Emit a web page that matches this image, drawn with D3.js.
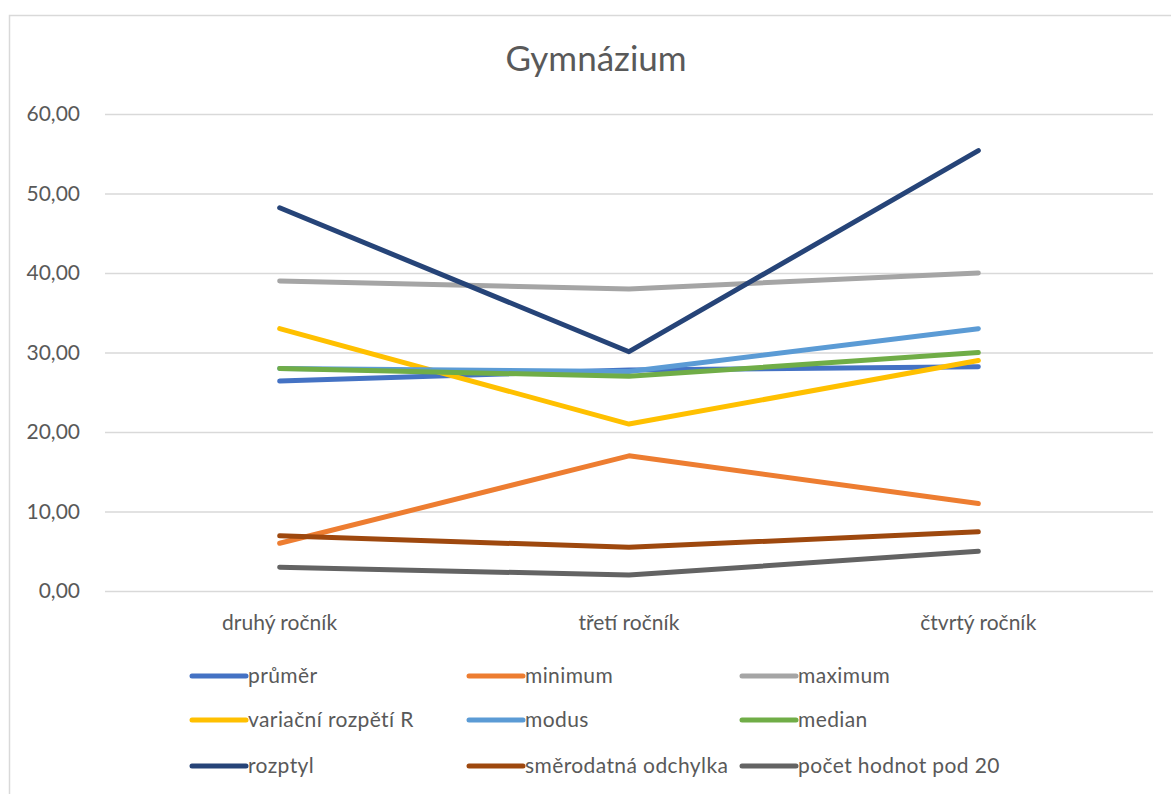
<!DOCTYPE html>
<html>
<head>
<meta charset="utf-8">
<script src="https://cdn.jsdelivr.net/npm/d3@7"></script>
<style>
  html, body { margin: 0; padding: 0; background: #fff; }
  svg { display: block; font-family: Lato, "Open Sans", sans-serif; }
</style>
</head>
<body>
<svg id="chart" width="1171" height="794"></svg>
<script>
// Statistiky výsledků po ročnících
const categories = ["druhý ročník", "třetí ročník", "čtvrtý ročník"];
const seriesNames = ["průměr", "minimum", "maximum", "variační rozpětí R", "modus", "median", "rozptyl", "směrodatná odchylka", "počet hodnot pod 20"];
const prumer = [26.4, 27.8, 28.2];
const minimum = [6, 17, 11];
const maximum = [39, 38, 40];
const rozpeti = [33, 21, 29];
const modus = [28, 27.6, 33];
const median = [28, 27, 30];
const rozptyl = [48.2, 30.1, 55.4];
const smOdchylka = [6.94, 5.49, 7.44];
const pocetPod20 = [3, 2, 5];
const yTicks = [0, 10, 20, 30, 40, 50, 60];
const colors = ["#4472C4", "#ED7D31", "#A5A5A5", "#FFC000", "#5B9BD5", "#70AD47", "#264478", "#9E480E", "#636363"];

const values = [prumer, minimum, maximum, rozpeti, modus, median, rozptyl, smOdchylka, pocetPod20];
const series = seriesNames.map((name, i) => ({ name, color: colors[i], values: values[i] }));

const svg = d3.select("#chart");
const textColor = "#595959";

// Chart frame
svg.append("rect")
  .attr("x", 9.5).attr("y", 15.5)
  .attr("width", 1200).attr("height", 820)
  .attr("fill", "none").attr("stroke", "#d9d9d9").attr("stroke-width", 1.5);

const plot = { left: 105, right: 1153, top: 114, bottom: 591 };

const x = d3.scaleBand().domain(categories).range([plot.left, plot.right]);
const y = d3.scaleLinear().domain([0, 60]).range([plot.bottom, plot.top]);

// Title
svg.append("text")
  .attr("x", 596).attr("y", 71)
  .attr("text-anchor", "middle")
  .attr("font-size", 35)
  .attr("fill", textColor)
  .text("Gymnázium");

// Gridlines
svg.append("g")
  .attr("transform", `translate(${plot.left},0)`)
  .call(d3.axisLeft(y).tickValues(yTicks).tickSize(-(plot.right - plot.left)).tickFormat(""))
  .call(g => g.select(".domain").remove())
  .call(g => g.selectAll(".tick line").attr("stroke", "#d9d9d9").attr("stroke-width", 1.5));

// Y tick labels
svg.append("g")
  .attr("transform", `translate(${plot.left},0)`)
  .call(d3.axisLeft(y).tickValues(yTicks).tickSize(0).tickPadding(25)
    .tickFormat(d => d3.format(".2f")(d).replace(".", ",")))
  .call(g => g.select(".domain").remove())
  .call(g => g.selectAll("text").attr("font-size", 21).attr("fill", textColor).attr("font-family", "Lato, sans-serif"));

// Category labels
svg.append("g")
  .attr("transform", `translate(0,${plot.bottom})`)
  .call(d3.axisBottom(x).tickSize(0).tickPadding(24))
  .call(g => g.select(".domain").remove())
  .call(g => g.selectAll("text").attr("font-size", 21).attr("fill", textColor).attr("font-family", "Lato, sans-serif"));

// Lines
const line = d3.line()
  .x((d, i) => x(categories[i]) + x.bandwidth() / 2)
  .y(d => y(d));

svg.append("g").selectAll("path")
  .data(series)
  .join("path")
  .attr("d", d => line(d.values))
  .attr("fill", "none")
  .attr("stroke", d => d.color)
  .attr("stroke-width", 5)
  .attr("stroke-linecap", "round")
  .attr("stroke-linejoin", "round");

// Legend
const legendCols = [190, 467, 740];
const legendRows = [676, 720, 766];
const legend = svg.append("g").selectAll("g")
  .data(series)
  .join("g")
  .attr("transform", (d, i) => `translate(${legendCols[i % 3]},${legendRows[Math.floor(i / 3)]})`);

legend.append("line")
  .attr("x1", 2).attr("x2", 56)
  .attr("stroke", d => d.color)
  .attr("stroke-width", 5)
  .attr("stroke-linecap", "round");

legend.append("text")
  .attr("x", 58).attr("dy", "0.35em")
  .attr("font-size", 21)
  .attr("letter-spacing", 0.4)
  .attr("fill", textColor)
  .text(d => d.name);
</script>
</body>
</html>
